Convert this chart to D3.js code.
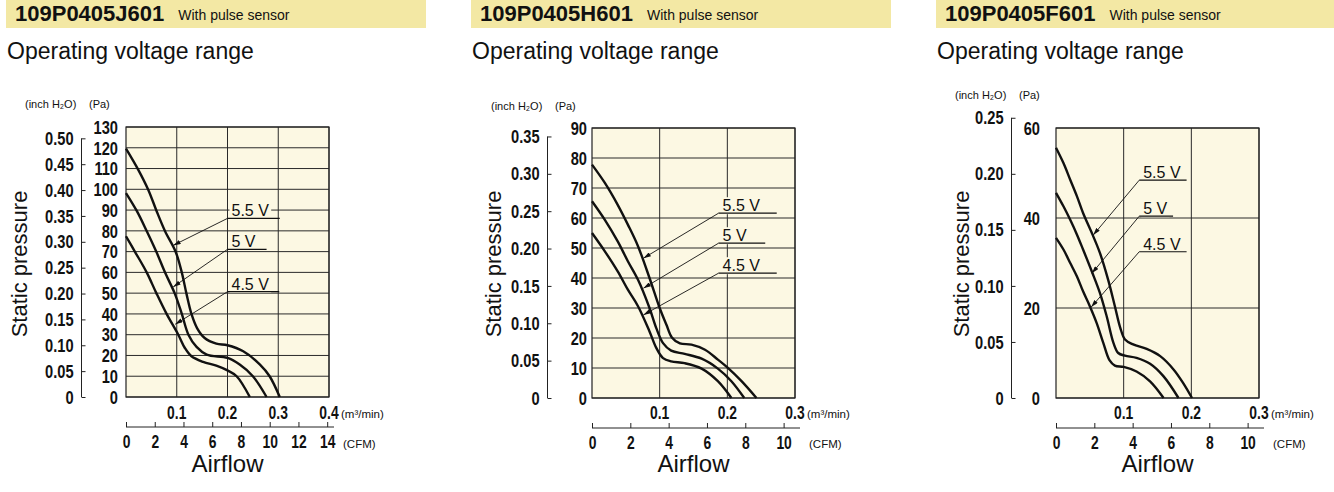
<!DOCTYPE html>
<html>
<head>
<meta charset="utf-8">
<script src="https://cdn.jsdelivr.net/npm/d3@7"></script>
<style>
  body { margin: 0; background: #fff; }
  svg text { font-family: "Liberation Sans", Arial, sans-serif; fill: #111; }
  svg .num { font-family: "Liberation Sans", Arial, sans-serif; font-weight: bold; }
</style>
</head>
<body>
<svg id="chart" width="1334" height="492"></svg>
<script>
/* DATA */

const models = ["109P0405J601", "109P0405H601", "109P0405F601"];
const subtitle = "With pulse sensor";
const sectionTitle = "Operating voltage range";
const voltages = ["5.5 V", "5 V", "4.5 V"];

// curves: [airflow m3/min, static pressure Pa]
const j601_55 = [[0, 119.6], [0.024, 109.5], [0.044, 99.7], [0.060, 89.7], [0.077, 79.8], [0.098, 69.8],
  [0.110, 59.9], [0.119, 49.9], [0.129, 40.0], [0.140, 33.2], [0.155, 28.4], [0.178, 25.7], [0.200, 24.9],
  [0.231, 22.0], [0.264, 15.6], [0.283, 10.0], [0.303, 0]];
const j601_50 = [[0, 98.2], [0.021, 89.7], [0.041, 79.8], [0.060, 69.8], [0.077, 59.9], [0.096, 49.9],
  [0.110, 40.0], [0.123, 30.0], [0.139, 24.1], [0.159, 20.4], [0.200, 18.8], [0.224, 15.6], [0.250, 10.0],
  [0.277, 0]];
const j601_45 = [[0, 77.4], [0.018, 69.8], [0.041, 59.9], [0.060, 49.9], [0.080, 40.0], [0.103, 30.0],
  [0.116, 23.6], [0.129, 19.6], [0.152, 16.9], [0.178, 15.1], [0.200, 12.8], [0.218, 10.0], [0.244, 0]];

const h601_55 = [[0, 77.8], [0.019, 71.7], [0.038, 64.4], [0.053, 57.8], [0.068, 50.6], [0.085, 40],
  [0.100, 30], [0.110, 24.4], [0.118, 20.2], [0.130, 18.2], [0.147, 17.8], [0.167, 16.1], [0.186, 12.8],
  [0.200, 10.2], [0.221, 5.6], [0.243, 0]];
const h601_50 = [[0, 65.6], [0.019, 59.4], [0.038, 52.2], [0.053, 45.6], [0.068, 39.4], [0.085, 30],
  [0.095, 23.3], [0.105, 18.3], [0.117, 15.8], [0.137, 14.7], [0.162, 13.1], [0.186, 9.8], [0.206, 5.6],
  [0.225, 0]];
const h601_45 = [[0, 55], [0.019, 48.9], [0.038, 42.2], [0.053, 36.1], [0.068, 30.6], [0.085, 22.2],
  [0.095, 16.7], [0.105, 13.3], [0.117, 12.2], [0.137, 11.6], [0.162, 9.8], [0.186, 5.6], [0.206, 0]];

const f601_55 = [[0, 55.6], [0.011, 52.2], [0.021, 48.5], [0.031, 44.8], [0.040, 41.1], [0.054, 36.3],
  [0.065, 32.2], [0.077, 26.3], [0.087, 20.4], [0.095, 15.6], [0.102, 13], [0.114, 11.9], [0.134, 10.9],
  [0.154, 9.3], [0.174, 6.3], [0.188, 3.3], [0.201, 0]];
const f601_50 = [[0, 45.6], [0.011, 42.6], [0.021, 39.6], [0.031, 36.3], [0.040, 33], [0.053, 28.1],
  [0.065, 23.3], [0.075, 18.1], [0.085, 12.2], [0.092, 10], [0.102, 9.4], [0.119, 8.9], [0.139, 7.6],
  [0.159, 4.8], [0.181, 0]];
const f601_45 = [[0, 35.6], [0.011, 33], [0.021, 30], [0.031, 27], [0.040, 23.7], [0.050, 20.4],
  [0.060, 16.7], [0.070, 12.2], [0.079, 8.4], [0.087, 7.2], [0.100, 6.9], [0.119, 5.9], [0.139, 3.7],
  [0.159, 0]];

// tick values
const j601PaTicks = [0, 10, 20, 30, 40, 50, 60, 70, 80, 90, 100, 110, 120, 130];
const h601PaTicks = [0, 10, 20, 30, 40, 50, 60, 70, 80, 90];
const f601PaTicks = [0, 20, 40, 60];
const j601InchTicks = [0, 0.05, 0.10, 0.15, 0.20, 0.25, 0.30, 0.35, 0.40, 0.45, 0.50];
const h601InchTicks = [0, 0.05, 0.10, 0.15, 0.20, 0.25, 0.30, 0.35];
const f601InchTicks = [0, 0.05, 0.10, 0.15, 0.20, 0.25];
const j601FlowTicks = [0.1, 0.2, 0.3, 0.4];
const h601FlowTicks = [0.1, 0.2, 0.3];
const f601FlowTicks = [0.1, 0.2, 0.3];
const j601CfmTicks = [0, 2, 4, 6, 8, 10, 12, 14];
const h601CfmTicks = [0, 2, 4, 6, 8, 10];
const f601CfmTicks = [0, 2, 4, 6, 8, 10];

// voltage labels: underline start/end (m3/min), level (Pa), arrow tip (m3/min, Pa)
const j601Notes = [[0.200, 0.303, 86.0, 0.093, 73], [0.200, 0.277, 71.1, 0.093, 53], [0.200, 0.302, 50.7, 0.097, 35]];
const h601Notes = [[0.187, 0.273, 61.6, 0.076, 46.6], [0.187, 0.256, 51.6, 0.076, 36.6], [0.187, 0.273, 41.6, 0.076, 27.7]];
const f601Notes = [[0.123, 0.193, 48.4, 0.055, 36.2], [0.123, 0.173, 40.4, 0.053, 27.7], [0.123, 0.193, 32.5, 0.052, 20.2]];

/* LAYOUT */

const INCH = 249.089;     // Pa per inch H2O
const CFM = 0.0283168;    // m3/min per CFM
const SX = 0.77;          // horizontal squeeze for the condensed numerals
const bandColor = "#f3e8a4";
const plotColor = "#fcf8e3";

const panels = [
  { model: models[0], curves: [j601_55, j601_50, j601_45], notes: j601Notes, qMax: 0.4, paMax: 130,
    paTicks: j601PaTicks, inchTicks: j601InchTicks, flowTicks: j601FlowTicks, cfmTicks: j601CfmTicks,
    band: 6, bandW: 420, left: 126, right: 329, top: 127, bottom: 397, paOff: 8, unitY: 104, spX: 27 },
  { model: models[1], curves: [h601_55, h601_50, h601_45], notes: h601Notes, qMax: 0.3, paMax: 90,
    paTicks: h601PaTicks, inchTicks: h601InchTicks, flowTicks: h601FlowTicks, cfmTicks: h601CfmTicks,
    band: 471, bandW: 420, left: 592, right: 795, top: 128, bottom: 398, paOff: 5, unitY: 106, spX: 501 },
  { model: models[2], curves: [f601_55, f601_50, f601_45], notes: f601Notes, qMax: 0.3, paMax: 60,
    paTicks: f601PaTicks, inchTicks: f601InchTicks, flowTicks: f601FlowTicks, cfmTicks: f601CfmTicks,
    band: 936, bandW: 398, left: 1056, right: 1259, top: 128, bottom: 398, paOff: 16, unitY: 95, spX: 969 }
];

const svg = d3.select("#chart");

svg.append("defs").append("marker")
    .attr("id", "arrow")
    .attr("viewBox", "0 0 10 6")
    .attr("refX", 10).attr("refY", 3)
    .attr("markerWidth", 8).attr("markerHeight", 4.5)
    .attr("markerUnits", "userSpaceOnUse")
    .attr("orient", "auto")
  .append("path")
    .attr("d", "M0,0L10,3L0,6Z")
    .attr("fill", "#111");

panels.forEach(drawPanel);

function fmtInch(v) { return v === 0 ? "0" : v.toFixed(2); }

// condensed numeral, placed at (x, y) baseline
function numText(g, x, y, anchor, size, str) {
    return g.append("text")
        .attr("class", "num")
        .attr("transform", `translate(${x},${y}) scale(${SX},1)`)
        .attr("text-anchor", anchor)
        .attr("font-size", size)
        .text(str);
}

function drawPanel(p) {
    const g = svg.append("g");
    const x = d3.scaleLinear().domain([0, p.qMax]).range([p.left, p.right]);
    const y = d3.scaleLinear().domain([0, p.paMax]).range([p.bottom, p.top]);
    const yIn = d3.scaleLinear().domain([0, p.paMax / INCH]).range([p.bottom, p.top]);
    const xC = d3.scaleLinear().domain([0, p.qMax / CFM]).range([p.left, p.right]);

    // header
    g.append("rect")
        .attr("x", p.band).attr("y", 0)
        .attr("width", p.bandW).attr("height", 28)
        .attr("fill", bandColor);
    const title = g.append("text")
        .attr("x", p.band + 9).attr("y", 21)
        .attr("font-size", 22).attr("font-weight", "bold")
        .text(p.model);
    const tEnd = p.band + 9 + title.node().getComputedTextLength();
    g.append("text")
        .attr("x", tEnd + 14).attr("y", 20)
        .attr("font-size", 14)
        .text(subtitle);
    g.append("text")
        .attr("x", p.band + 1).attr("y", 59)
        .attr("font-size", 23)
        .text(sectionTitle);

    // plot area and grid
    g.append("rect")
        .attr("x", p.left).attr("y", p.top)
        .attr("width", p.right - p.left).attr("height", p.bottom - p.top)
        .attr("fill", plotColor);
    g.selectAll(".vgrid").data(p.flowTicks).enter().append("line")
        .attr("x1", d => x(d)).attr("x2", d => x(d))
        .attr("y1", p.top).attr("y2", p.bottom)
        .attr("stroke", "#2a2a2a").attr("stroke-width", 1);
    g.selectAll(".hgrid").data(p.paTicks).enter().append("line")
        .attr("x1", p.left).attr("x2", p.right)
        .attr("y1", d => y(d)).attr("y2", d => y(d))
        .attr("stroke", "#2a2a2a").attr("stroke-width", 1);
    g.append("rect")
        .attr("x", p.left).attr("y", p.top)
        .attr("width", p.right - p.left).attr("height", p.bottom - p.top)
        .attr("fill", "none").attr("stroke", "#222").attr("stroke-width", 1.2);

    // voltage labels (mask, underline, leader)
    p.notes.forEach((n, i) => {
        const t = g.append("text")
            .attr("x", x(n[0]) + 4).attr("y", y(n[2]) - 2)
            .attr("font-size", 16)
            .text(voltages[i]);
        const bb = t.node().getBBox();
        g.insert("rect", () => t.node())
            .attr("x", bb.x - 2).attr("y", bb.y)
            .attr("width", bb.width + 4).attr("height", bb.height)
            .attr("fill", plotColor);
        g.append("line")
            .attr("x1", x(n[0])).attr("x2", x(n[1]))
            .attr("y1", y(n[2])).attr("y2", y(n[2]))
            .attr("stroke", "#111").attr("stroke-width", 1.2);
        g.append("line")
            .attr("x1", x(n[0])).attr("y1", y(n[2]))
            .attr("x2", x(n[3])).attr("y2", y(n[4]))
            .attr("stroke", "#111").attr("stroke-width", 0.9)
            .attr("marker-end", "url(#arrow)");
    });

    // curves
    const line = d3.line()
        .x(d => x(d[0]))
        .y(d => y(d[1]))
        .curve(d3.curveCatmullRom.alpha(0.5));
    g.selectAll(".curve").data(p.curves).enter().append("path")
        .attr("d", line)
        .attr("fill", "none")
        .attr("stroke", "#111")
        .attr("stroke-width", 2.4);

    // Pa labels
    p.paTicks.forEach(d => numText(g, p.left - p.paOff, y(d) + 6.8, "end", 19, d));

    // inch H2O axis
    const ax = g.append("g")
        .attr("transform", `translate(${p.left - 44.5},0)`)
        .call(d3.axisLeft(yIn).tickValues(p.inchTicks).tickSize(-4).tickSizeOuter(0)
            .tickPadding(8).tickFormat(fmtInch));
    ax.select(".domain").remove();
    ax.append("line")
        .attr("x1", 0).attr("x2", 0)
        .attr("y1", yIn(0)).attr("y2", yIn(p.inchTicks[p.inchTicks.length - 1]))
        .attr("stroke", "#222");
    ax.selectAll(".tick line").attr("stroke", "#222");
    ax.selectAll(".tick text")
        .attr("class", "num")
        .attr("x", -8 / SX)
        .attr("transform", `scale(${SX},1)`)
        .attr("font-size", 19)
        .attr("fill", "#111");

    // unit captions
    g.append("text")
        .attr("x", p.left - 101).attr("y", p.unitY + 4)
        .attr("font-size", 11)
        .text("(inch H\u2082O)");
    g.append("text")
        .attr("x", p.left - 37).attr("y", p.unitY + 4)
        .attr("font-size", 11)
        .text("(Pa)");
    g.append("text")
        .attr("transform", `translate(${p.spX},264) rotate(-90)`)
        .attr("text-anchor", "middle")
        .attr("font-size", 22)
        .text("Static pressure");

    // m3/min labels
    p.flowTicks.forEach(d => numText(g, x(d), 419, "middle", 18, d));
    g.append("text")
        .attr("x", p.right + 12).attr("y", 418)
        .attr("font-size", 11.5)
        .text("(m\u00b3/min)");

    // CFM axis
    const cy = p.bottom + 30;
    const cx = g.append("g")
        .attr("transform", `translate(0,${cy})`)
        .call(d3.axisBottom(xC).tickValues(p.cfmTicks).tickSize(-5).tickSizeOuter(0).tickPadding(8));
    cx.select(".domain").remove();
    cx.append("line")
        .attr("x1", p.left).attr("x2", p.right + 5)
        .attr("y1", 0).attr("y2", 0)
        .attr("stroke", "#222");
    cx.selectAll(".tick line").attr("stroke", "#222");
    cx.selectAll(".tick text")
        .attr("class", "num")
        .attr("transform", `scale(${SX},1)`)
        .attr("font-size", 18)
        .attr("fill", "#111");
    g.append("text")
        .attr("x", p.right + 14).attr("y", 448)
        .attr("font-size", 11.5)
        .text("(CFM)");

    g.append("text")
        .attr("x", (p.left + p.right) / 2).attr("y", 472)
        .attr("text-anchor", "middle")
        .attr("font-size", 24)
        .text("Airflow");
}
</script>
</body>
</html>
